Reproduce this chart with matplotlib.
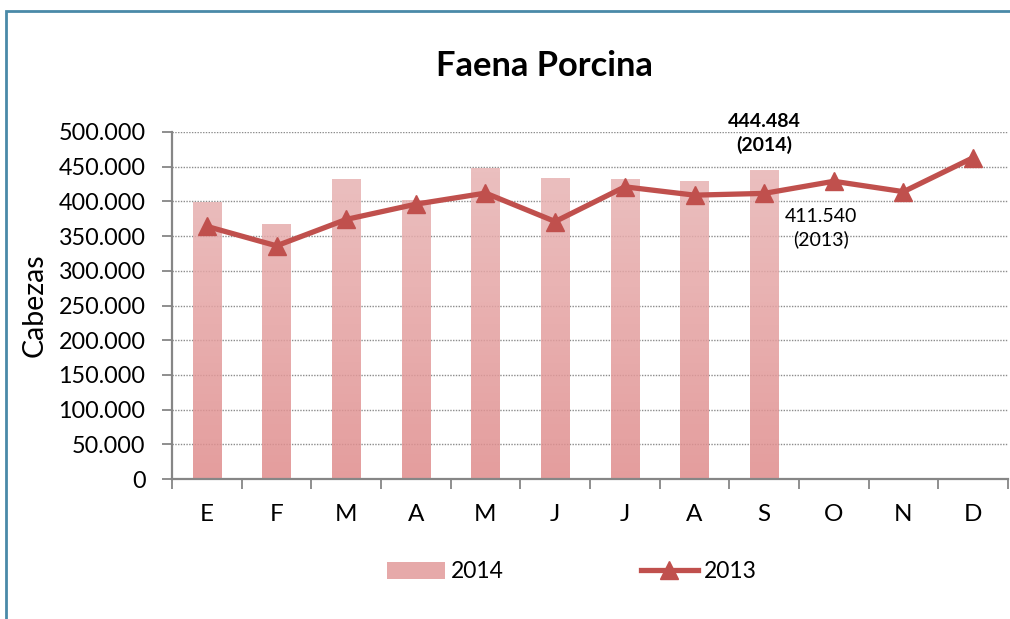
import numpy as np
import matplotlib
matplotlib.use("Agg")
import matplotlib.pyplot as plt
from matplotlib.patches import Rectangle, Patch
from matplotlib.lines import Line2D
from matplotlib.colors import LinearSegmentedColormap

plt.rcParams['font.family'] = ['Lato', 'DejaVu Sans']

months = ["E", "F", "M", "A", "M", "J", "J", "A", "S", "O", "N", "D"]
vals_2014 = [399000, 367000, 431000, 402000, 447000, 433000, 432000, 428000, 444484]
vals_2013 = [364000, 336000, 374000, 396000, 412000, 371000, 421000, 409000, 411540, 429000, 414000, 463000]
yticks = [0, 50000, 100000, 150000, 200000, 250000, 300000, 350000, 400000, 450000, 500000]
ytick_labels = ["0", "50.000", "100.000", "150.000", "200.000", "250.000", "300.000",
                "350.000", "400.000", "450.000", "500.000"]

W, H = 1010, 619
fig = plt.figure(figsize=(W / 100, H / 100), dpi=100)
ax = fig.add_axes([172 / W, 1 - 479 / H, (1008 - 172) / W, (479 - 132) / H])

x = np.arange(len(months))
ymax = 500000

# gridlines
ax.set_axisbelow(True)
ax.yaxis.grid(True, linestyle=(0, (1, 1)), color="#8c8c8c", linewidth=1.0)

# gradient bars
cmap = LinearSegmentedColormap.from_list("bg", ["#e08c8c", "#e9b9b9"])
bw = 0.41
for i, v in enumerate(vals_2014):
    grad = np.linspace(0, v / ymax, 256).reshape(-1, 1)
    ax.imshow(grad, extent=[i - bw / 2, i + bw / 2, 0, v], origin="lower",
              aspect="auto", cmap=cmap, vmin=0, vmax=1, alpha=0.85, zorder=2)
ax.set_aspect("auto")
ax.set_xlim(-0.5, len(months) - 0.5)
ax.set_ylim(0, ymax)

# line 2013
ax.plot(x, vals_2013, color="#c0504d", linewidth=3.8, marker="^", markersize=13,
        markeredgecolor="#c0504d", zorder=4, solid_capstyle="round")

# axes styling
for s in ["top", "right"]:
    ax.spines[s].set_visible(False)
for s in ["left", "bottom"]:
    ax.spines[s].set_color("#868686")
    ax.spines[s].set_linewidth(1.6)

ax.set_yticks(yticks)
ax.set_yticklabels(ytick_labels)
ax.tick_params(axis="y", direction="out", length=7, width=1.3, color="#868686",
               labelsize=16.8, pad=12)
ax.set_xticks(x)
ax.set_xticklabels(months)
ax.set_xticks(np.arange(-0.5, len(months)), minor=True)
ax.tick_params(axis="x", which="major", length=0, labelsize=17.5, pad=18)
ax.tick_params(axis="x", which="minor", direction="out", length=7, width=1.3,
               color="#868686")

# title & labels
fig.text(544 / W, 1 - 66 / H, "Faena Porcina", ha="center", va="center",
         fontsize=24.8, fontweight="bold")
fig.text(35 / W, 1 - 305 / H, "Cabezas", rotation=90, ha="center", va="center",
         fontsize=20.5)

# annotations
ax.text(8, 498000, "444.484\n(2014)", ha="center", va="center", fontsize=14,
        fontweight="bold", linespacing=1.35)
ax.text(8.82, 362000, "411.540\n(2013)", ha="center", va="center", fontsize=14,
        linespacing=1.35)

# legend
handles = [Patch(facecolor="#e6a9a9", edgecolor="none"),
           Line2D([0], [0], color="#c0504d", linewidth=3.8, marker="^", markersize=13)]
fig.legend(handles, ["2014", "2013"], loc="center", bbox_to_anchor=(572 / W, 1 - 572 / H),
           ncol=2, frameon=False, fontsize=16.5, handlelength=2.5, columnspacing=6.0,
           handletextpad=0.25)

# outer frame
fig.patches.append(Rectangle((6 / W, -0.1), 1.2, 1 - 11 / H + 0.1, transform=fig.transFigure,
                             fill=False, edgecolor="#4a8aa8", linewidth=2))

fig.savefig("out.png", dpi=100)
